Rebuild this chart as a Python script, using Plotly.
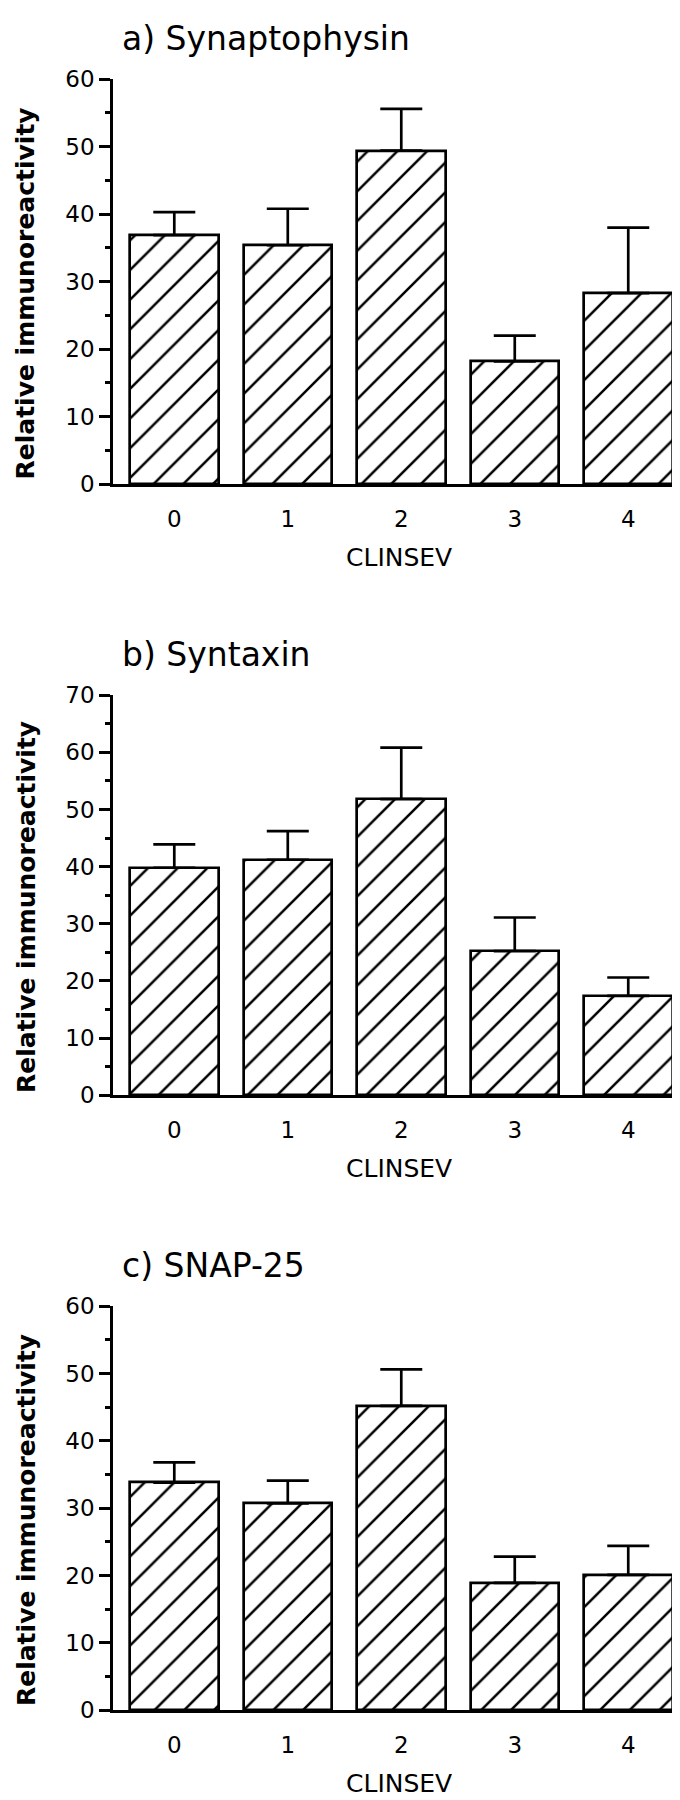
import plotly.graph_objects as go

# ---- data ----
clinsev = ["0", "1", "2", "3", "4"]

synaptophysin_mean = [36.9, 35.4, 49.4, 18.2, 28.3]
synaptophysin_err = [3.4, 5.4, 6.2, 3.8, 9.7]

syntaxin_mean = [39.8, 41.2, 51.8, 25.2, 17.4]
syntaxin_err = [4.1, 5.0, 9.0, 5.9, 3.2]

snap25_mean = [33.8, 30.7, 45.2, 18.9, 20.1]
snap25_err = [3.0, 3.4, 5.4, 3.9, 4.3]

panel_titles = ["a) Synaptophysin", "b) Syntaxin", "c) SNAP-25"]
y_max = [60, 70, 60]
y_title = "Relative immunoreactivity"
x_title = "CLINSEV"

# ---- layout geometry (screen pixels) ----
OFF = 0
W, H = 680 - OFF, 1800 - OFF
PLOT_L, PLOT_R = 105, 677          # screen x of plot area edges
plot_tops = [59, 684, 1304]        # screen y
plot_bottoms = [470, 1090, 1714]   # screen y
ML = PLOT_L - OFF
MR = W - (PLOT_R - OFF)

FONT = "DejaVu Sans"
BLACK = "black"
LW = 2.7

means = [synaptophysin_mean, syntaxin_mean, snap25_mean]
errs = [synaptophysin_err, syntaxin_err, snap25_err]

fig = go.Figure()

def py(sy):
    return 1 - (sy - OFF) / H

def pxx(sx):
    return (sx - PLOT_L) / (PLOT_R - PLOT_L)

annotations = []
for i in range(3):
    sfx = "" if i == 0 else str(i + 1)
    fig.add_trace(go.Bar(
        x=clinsev, y=means[i],
        xaxis="x" + sfx, yaxis="y" + sfx,
        width=0.78,
        marker=dict(
            color="white",
            line=dict(color=BLACK, width=LW),
            pattern=dict(shape="/", fgcolor=BLACK, fgopacity=1,
                         bgcolor="white", size=21, solidity=0.12),
        ),
        error_y=dict(type="data", symmetric=False, array=errs[i],
                     arrayminus=[0] * len(errs[i]),
                     color=BLACK, thickness=LW, width=21),
        showlegend=False,
    ))
    dom = [py(plot_bottoms[i]), py(plot_tops[i])]
    fig.update_layout(**{
        "xaxis" + sfx: dict(
            domain=[0, 1], anchor="y" + sfx,
            type="category", range=[-0.54, 4.5],
            showline=True, linecolor=BLACK, linewidth=LW,
            ticks="", showgrid=False, zeroline=False,
            ticklabelstandoff=12,
            tickfont=dict(family=FONT, size=23, color=BLACK),
        ),
        "yaxis" + sfx: dict(
            domain=dom, anchor="x" + sfx,
            range=[0, y_max[i]], dtick=10, tick0=0,
            showline=True, linecolor=BLACK, linewidth=LW,
            ticks="outside", ticklen=11, tickwidth=LW, tickcolor=BLACK,
            minor=dict(dtick=5, tick0=0, ticks="outside", ticklen=5,
                       tickwidth=LW, tickcolor=BLACK, showgrid=False),
            showgrid=False, zeroline=False,
            tickfont=dict(family=FONT, size=23, color=BLACK),
        ),
    })
    # panel title
    annotations.append(dict(
        text=panel_titles[i], xref="paper", yref="paper",
        x=pxx(112), y=py(plot_tops[i] - 41), xanchor="left", yanchor="middle",
        showarrow=False, font=dict(family=FONT, size=33, color=BLACK),
    ))
    # y-axis title
    annotations.append(dict(
        text="<b>" + y_title + "</b>", xref="paper", yref="paper",
        x=pxx(18), y=py((plot_tops[i] + plot_bottoms[i]) / 2 + 12),
        xanchor="center", yanchor="middle", textangle=-90,
        showarrow=False, font=dict(family=FONT, size=25, color=BLACK),
    ))
    # x-axis title
    annotations.append(dict(
        text=x_title, xref="paper", yref="paper",
        x=pxx(391), y=py(plot_bottoms[i] + 74), xanchor="center",
        yanchor="middle", showarrow=False,
        font=dict(family=FONT, size=25, color=BLACK),
    ))

fig.update_layout(
    width=W, height=H,
    margin=dict(l=ML, r=MR, t=0, b=0),
    paper_bgcolor="white", plot_bgcolor="white",
    showlegend=False, bargap=0,
    annotations=annotations,
)

fig.write_html("out.html")
